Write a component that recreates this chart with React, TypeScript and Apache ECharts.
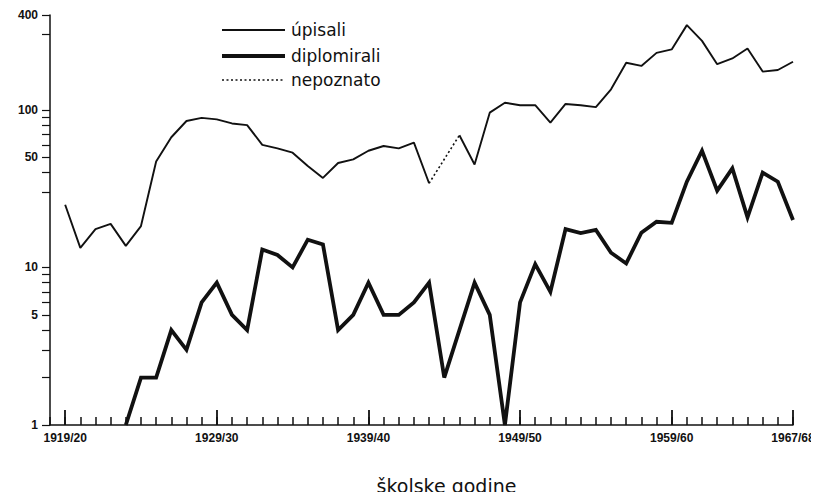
import React, { useEffect, useRef } from "react";
import * as echarts from "echarts";

// School year index 0 = 1919/20 ... 48 = 1967/68
const yearLabels: Record<number, string> = {
  0: "1919/20",
  10: "1929/30",
  20: "1939/40",
  30: "1949/50",
  40: "1959/60",
  48: "1967/68",
};
const labelIndices = [0, 10, 20, 30, 40, 48];

const upisali: (number | null)[] = [
  25, 13.3, 17.5, 18.9, 13.7, 18.3, 47, 67, 85, 89, 87, 82, 80, 60, 57, 53.5,
  44, 37, 46, 48.5, 55, 59, 57, 62, 34.2, null, 69, 45, 96, 111, 107, 107, 83,
  109, 107, 104, 135, 199, 190, 230, 242, 345, 274, 195, 212, 245, 175, 179, 202,
];

const diplomirali: (number | null)[] = [
  null, null, null, null, 1, 2, 2, 4, 3, 6, 8, 5, 4, 13, 12, 10, 15, 14, 4, 5,
  8, 5, 5, 6, 8, 2, 4, 8, 5, 1, 6, 10.5, 7, 17.5, 16.5, 17.3, 12.4, 10.6, 16.6,
  19.5, 19.2, 35, 55, 30.7, 42.5, 20.8, 40, 35, 20,
];

// unknown segment: 1943/44 -> 1945/46
const nepoznato: (number | null)[] = upisali.map((_, i) =>
  i === 24 ? 34.2 : i === 26 ? 69 : null
);

const yTickValues = [1, 2, 3, 4, 5, 6, 7, 8, 9, 10, 30, 40, 50, 60, 70, 80, 90, 100, 300, 400];
const yLabelValues = [1, 5, 10, 50, 100, 400];

const legendNames = ["úpisali", "diplomirali", "nepoznato"];

const toPairs = (arr: (number | null)[]) => arr.map((v, i) => [i, v]);

export default function App() {
  const ref = useRef<HTMLDivElement>(null);
  useEffect(() => {
    if (!ref.current) return;
    const chart = echarts.init(ref.current, undefined, { renderer: "svg" });
    const black = "#111";
    const legendRows = [30, 56, 80];
    const legendStyles = [
      { lineWidth: 1.8 },
      { lineWidth: 4 },
      { lineWidth: 1.6, lineDash: [2, 2.5] },
    ];
    const graphic: any[] = [];
    legendNames.forEach((name, k) => {
      graphic.push({
        type: "line",
        shape: { x1: 222, y1: legendRows[k], x2: 285, y2: legendRows[k] },
        style: { stroke: black, ...legendStyles[k] },
      });
      graphic.push({
        type: "text",
        x: 291,
        y: legendRows[k],
        style: {
          text: name,
          fill: black,
          font: "17px 'DejaVu Sans'",
          verticalAlign: "middle",
          align: "left",
        },
      });
    });
    chart.setOption({
      animation: false,
      backgroundColor: "#fff",
      grid: { left: 50, right: 26, top: 15, bottom: 75, outerBoundsMode: "none", containLabel: false },
      graphic,
      xAxis: [
        {
          type: "value",
          min: -1,
          max: 48,
          interval: 1,
          splitLine: { show: false },
          axisLine: { show: true, onZero: false, lineStyle: { color: black, width: 1.5 } },
          axisTick: { show: true, inside: true, length: 8, lineStyle: { color: black, width: 1.5 } },
          axisLabel: { show: false },
        },
        {
          type: "value",
          min: -1,
          max: 48,
          position: "bottom",
          splitLine: { show: false },
          axisLine: { show: false, onZero: false },
          axisTick: {
            show: true,
            inside: true,
            length: 15,
            customValues: labelIndices,
            lineStyle: { color: black, width: 1.8 },
          },
          axisLabel: {
            show: true,
            customValues: labelIndices,
            formatter: (v: number) => yearLabels[v] ?? "",
            fontFamily: "Liberation Sans",
            fontWeight: "bold",
            fontSize: 12,
            color: black,
            margin: 7,
            hideOverlap: false,
            overflow: "none",
          },
          name: "školske godine",
          nameLocation: "middle",
          nameGap: 51,
          nameTextStyle: {
            fontFamily: "DejaVu Sans",
            fontSize: 19,
            color: black,
            padding: [0, 0, 0, 50],
          },
        },
      ],
      yAxis: {
        type: "log",
        logBase: 10,
        min: 1,
        max: 400,
        splitLine: { show: false },
        axisLine: { show: true, onZero: false, lineStyle: { color: black, width: 1.5 } },
        axisTick: {
          show: true,
          length: 8,
          customValues: yTickValues,
          lineStyle: { color: black, width: 1.2 },
        },
        axisLabel: {
          show: true,
          customValues: yLabelValues,
          fontFamily: "Liberation Sans",
          fontWeight: "bold",
          fontSize: 12,
          color: black,
          margin: 12,
        },
      },
      series: [
        {
          name: "úpisali",
          type: "line",
          xAxisIndex: 0,
          data: toPairs(upisali),
          showSymbol: false,
          symbol: "none",
          connectNulls: false,
          lineStyle: { color: black, width: 1.9 },
          itemStyle: { color: black },
        },
        {
          name: "diplomirali",
          type: "line",
          xAxisIndex: 0,
          data: toPairs(diplomirali),
          showSymbol: false,
          symbol: "none",
          lineStyle: { color: black, width: 3.8, join: "miter" },
          itemStyle: { color: black },
        },
        {
          name: "nepoznato",
          type: "line",
          xAxisIndex: 0,
          data: toPairs(nepoznato),
          showSymbol: false,
          symbol: "none",
          connectNulls: true,
          lineStyle: { color: black, width: 1.6, type: [2, 2.5] },
          itemStyle: { color: black },
        },
      ],
    });
    return () => chart.dispose();
  }, []);
  return <div ref={ref} style={{ width: 819, height: 500, margin: -8 }} />;
}
